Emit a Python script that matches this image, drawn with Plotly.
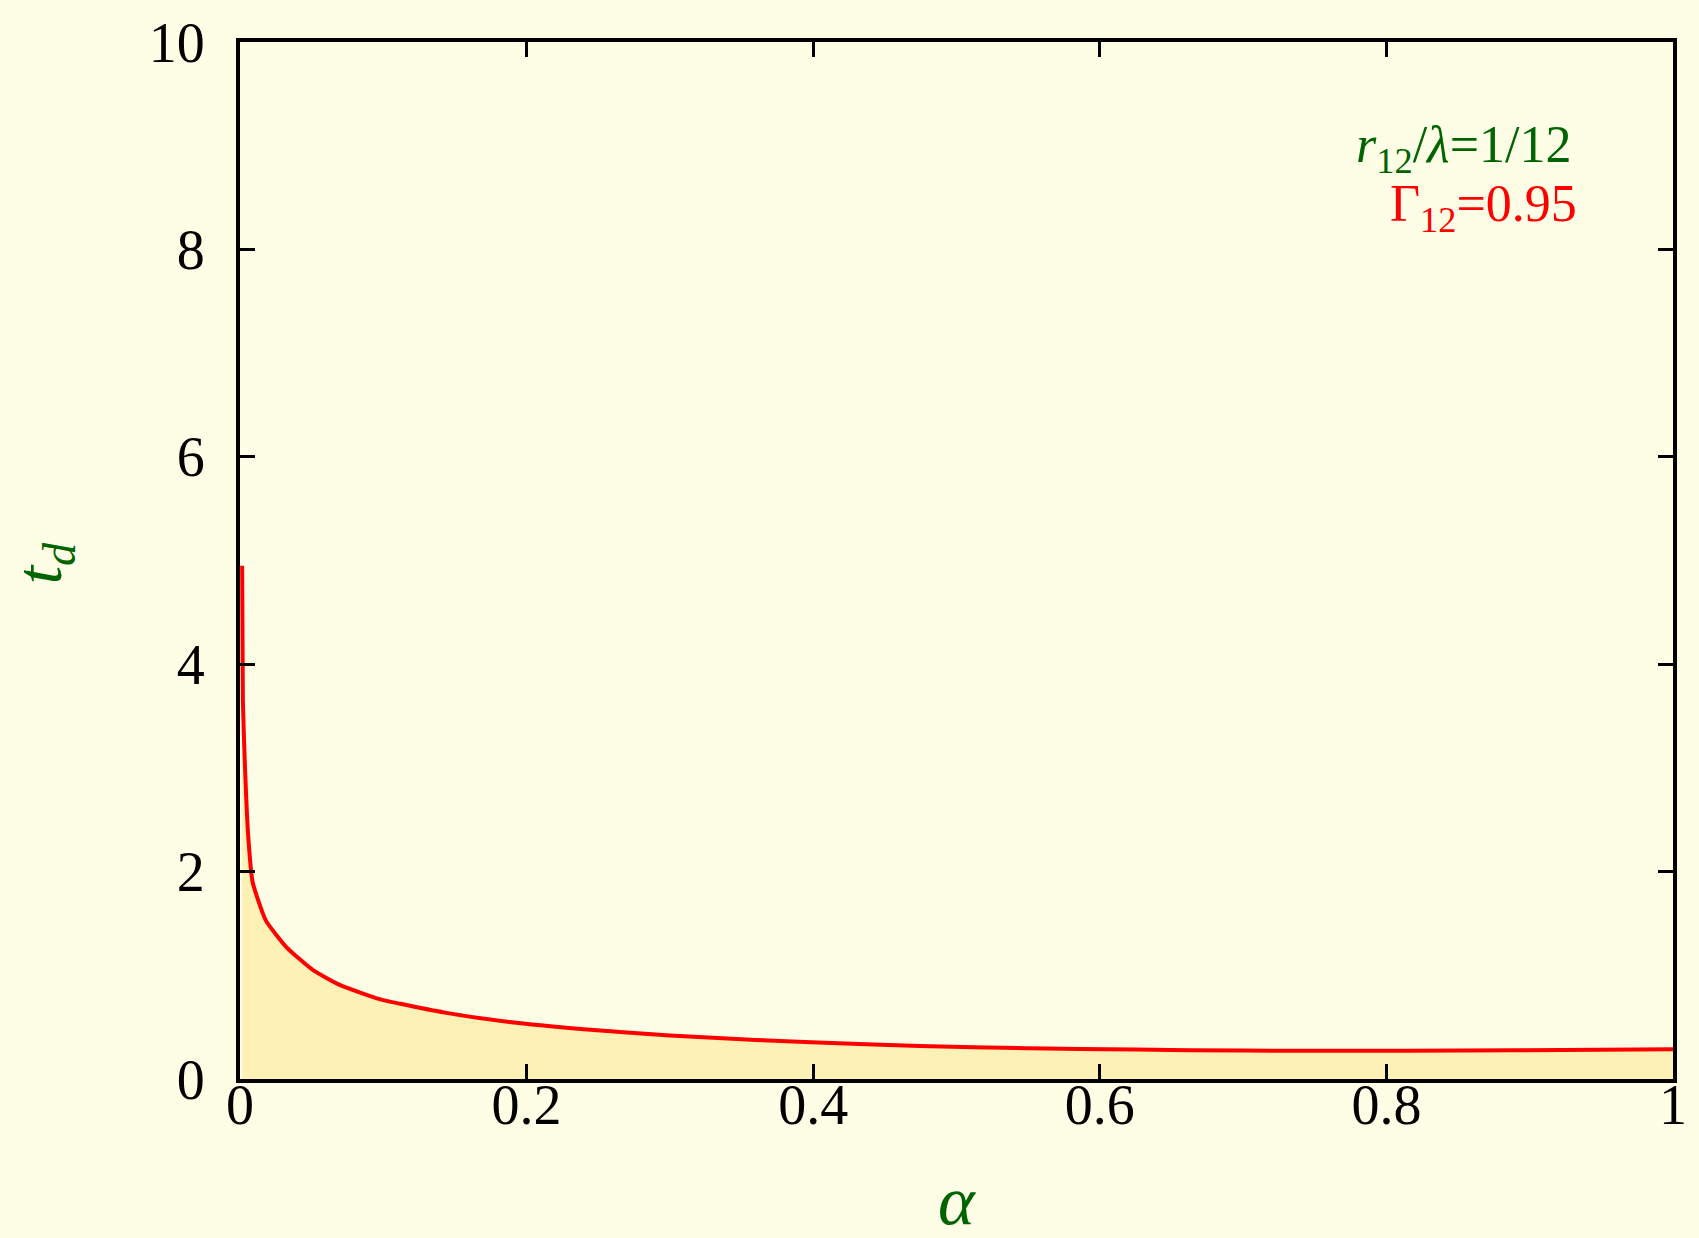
import plotly.graph_objects as go

alpha = [0.0015, 0.002, 0.0035, 0.0056, 0.0088, 0.018, 0.0325, 0.051, 0.07, 0.0975,
         0.112, 0.143, 0.188, 0.24, 0.30, 0.36, 0.437, 0.512, 0.587, 0.663,
         0.738, 0.814, 0.889, 1.0]
td = [4.95, 3.65, 3.0, 2.37, 1.90, 1.53, 1.27, 1.05, 0.905, 0.77,
      0.725, 0.64, 0.55, 0.48, 0.42, 0.376, 0.334, 0.305, 0.29, 0.278,
      0.272, 0.272, 0.277, 0.287]

x_ticks = [0, 0.2, 0.4, 0.6, 0.8, 1]
x_labels = ["0", "0.2", "0.4", "0.6", "0.8", "1"]
y_ticks = [0, 2, 4, 6, 8, 10]
y_labels = ["0", "2", "4", "6", "8", "10"]

BG = "#FEFEE6"
FILL = "#FDF1B5"
GREEN = "#006400"
FONT = "Liberation Serif"

fig = go.Figure()
fig.add_trace(go.Scatter(x=alpha, y=td, mode="lines", fill="tozeroy",
                         fillcolor=FILL, line=dict(color="red", width=4, shape="spline", smoothing=0.5),
                         showlegend=False, hoverinfo="skip"))

axis_common = dict(showline=True, linecolor="black", linewidth=4, mirror="allticks",
                   ticks="inside", ticklen=15, tickwidth=3, tickcolor="black",
                   showgrid=False, zeroline=False,
                   tickfont=dict(family=FONT, size=56, color="black"))

fig.update_xaxes(range=[0, 1], tickvals=x_ticks, ticktext=x_labels,
                 ticklabelstandoff=-26, **axis_common)
fig.update_yaxes(range=[0, 10], tickvals=y_ticks, ticktext=y_labels,
                 ticklabelstandoff=20, **axis_common)

fig.add_annotation(text="<i>α</i>", xref="paper", yref="paper", x=0.5003, y=-0.117,
                   showarrow=False, font=dict(family=FONT, size=70, color=GREEN),
                   xanchor="center", yanchor="middle")
fig.add_annotation(text="<i>t<sub>d</sub></i>", xref="paper", yref="paper", x=-0.137, y=0.497,
                   showarrow=False, textangle=-90, font=dict(family=FONT, size=66, color=GREEN),
                   xanchor="center", yanchor="middle")
fig.add_annotation(text="<i>r</i><sub>12</sub>/<i>λ</i>=1/12", xref="paper", yref="paper",
                   x=0.930, y=0.897, showarrow=False,
                   font=dict(family=FONT, size=52, color=GREEN),
                   xanchor="right", yanchor="middle")
fig.add_annotation(text="Γ<sub>12</sub>=0.95", xref="paper", yref="paper",
                   x=0.9345, y=0.840, showarrow=False,
                   font=dict(family=FONT, size=52, color="red"),
                   xanchor="right", yanchor="middle")

fig.update_layout(width=1699, height=1238, paper_bgcolor=BG, plot_bgcolor=BG,
                  margin=dict(l=240, r=22, t=40, b=159))

fig.write_html("out.html")
